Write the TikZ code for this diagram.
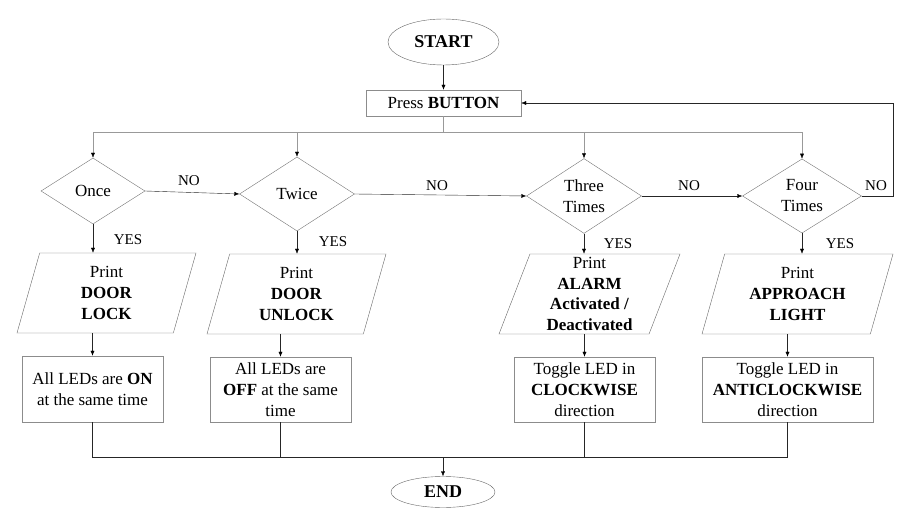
\documentclass[tikz,border=0pt]{standalone}
\usepackage{fontspec}
\setmainfont{Liberation Serif}
\usetikzlibrary{shapes.geometric}
\usetikzlibrary{arrows.meta}

\tikzset{
  flowtext/.style={font=\fontsize{17}{21}\selectfont,align=center},
  terminal/.style={ellipse,draw=black!60,flowtext,font=\fontsize{18}{21}\selectfont\bfseries,inner sep=0pt},
  process/.style={rectangle,draw=black!45,flowtext,inner sep=0pt},
  decision/.style={diamond,draw=black!55,flowtext,inner sep=0pt},
  printio/.style={trapezium,trapezium left angle=67,trapezium right angle=113,trapezium stretches body,draw=black!60,flowtext,inner sep=0pt,minimum height=80pt},
  flowarrow/.style={-{Latex[length=5pt,width=4pt,color=black]},black!85},
  branch/.style={draw=black!40},
  answer/.style={font=\fontsize{15}{18}\selectfont}
}

\begin{document}
\begin{tikzpicture}[x=1pt,y=-1pt]
\useasboundingbox (0,0) rectangle (902,510);

\node[terminal,minimum width=111pt,minimum height=46pt] (start) at (443.5,42) {START};
\node[process,minimum width=155pt,minimum height=26pt] (press) at (443.5,103) {Press \textbf{BUTTON}};

% decisions
\node[decision,minimum width=104pt,minimum height=66pt] (once) at (93,191) {Once};
\node[decision,minimum width=115pt,minimum height=74pt] (twice) at (297,194) {Twice};
\node[decision,minimum width=115pt,minimum height=74pt] (three) at (584,196) {Three\\Times};
\node[decision,minimum width=119pt,minimum height=74pt] (four) at (802,196) {Four\\Times};

% outputs
\node[printio,minimum width=179pt] (doorlock) at (106.5,293) {Print\\\textbf{DOOR}\\\textbf{LOCK}};
\node[printio,minimum width=179pt] (doorunlock) at (296.5,294) {Print\\\textbf{DOOR}\\\textbf{UNLOCK}};
\node[printio,minimum width=181pt,font=\fontsize{17}{20.5}\selectfont] (alarm) at (589.5,294) {Print\\\textbf{ALARM}\\\textbf{Activated /}\\\textbf{Deactivated}};
\node[printio,minimum width=191pt] (approach) at (797.5,294) {Print\\\textbf{APPROACH}\\\textbf{LIGHT}};

\node[process,minimum width=141pt,minimum height=66pt] (allon) at (92.5,389) {All LEDs are \textbf{ON}\\at the same time};
\node[process,minimum width=141pt,minimum height=65pt] (alloff) at (280.5,389.5) {All LEDs are\\\textbf{OFF} at the same\\time};
\node[process,minimum width=141pt,minimum height=65pt] (clock) at (584.5,389.5) {Toggle LED in\\\textbf{CLOCKWISE}\\direction};
\node[process,minimum width=171pt,minimum height=65pt] (anticlock) at (787.5,389.5) {Toggle LED in\\\textbf{ANTICLOCKWISE}\\direction};

\node[terminal,minimum width=104pt,minimum height=31pt] (end) at (443,492) {END};

\coordinate (fork) at (443.5,132);
\coordinate (loop) at (893,103);
\coordinate (join) at (443,457);

\draw[flowarrow] (start) -- (press);
\draw[branch] (press) -- (fork);
\draw[flowarrow,branch] (fork) -| (once);
\draw[flowarrow,branch] (fork) -| (twice);
\draw[flowarrow,branch] (fork) -| (three);
\draw[flowarrow,branch] (fork) -| (four);

\draw[flowarrow] (once.east) -- (twice.west);
\draw[flowarrow] (twice.east) -- (three.west);
\draw[flowarrow] (three.east) -- (four.west);
\draw[flowarrow] (four.east) -| (loop) -- (press.east);
\node[answer] (no1) at (189,181) {NO};
\node[answer] (no2) at (437,186) {NO};
\node[answer] (no3) at (689,186) {NO};
\node[answer] (no4) at (876,186) {NO};

\draw[flowarrow] (once.south) -- (once.south |- doorlock.north);
\draw[flowarrow] (twice.south) -- (twice.south |- doorunlock.north);
\draw[flowarrow] (three.south) -- (three.south |- alarm.north);
\draw[flowarrow] (four.south) -- (four.south |- approach.north);
\node[answer] (yes1) at (128,240) {YES};
\node[answer] (yes2) at (333,242) {YES};
\node[answer] (yes3) at (618,244) {YES};
\node[answer] (yes4) at (840,244) {YES};

\draw[flowarrow] (doorlock.south -| allon.north) -- (allon.north);
\draw[flowarrow] (doorunlock.south -| alloff.north) -- (alloff.north);
\draw[flowarrow] (alarm.south -| clock.north) -- (clock.north);
\draw[flowarrow] (approach.south -| anticlock.north) -- (anticlock.north);

\draw[black!85] (allon.south) |- (join);
\draw[black!85] (anticlock.south) |- (join);
\draw[black!85] (alloff.south) -- (alloff.south |- join);
\draw[black!85] (clock.south) -- (clock.south |- join);
\draw[flowarrow] (join) -- (end);

\end{tikzpicture}
\end{document}
